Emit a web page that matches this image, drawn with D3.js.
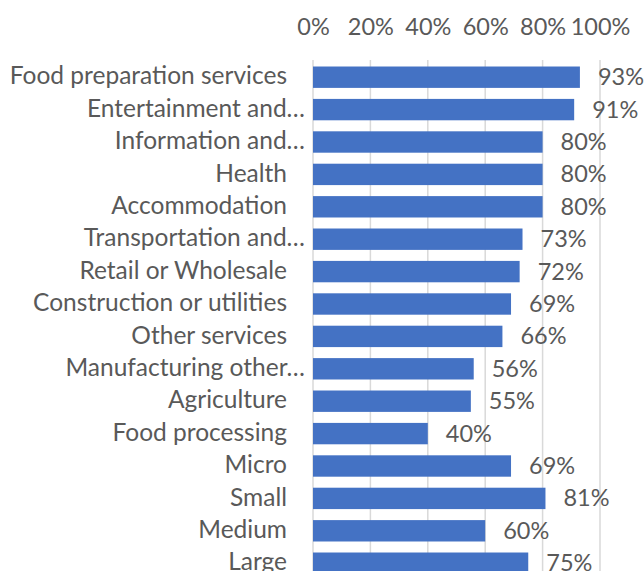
<!DOCTYPE html>
<html>
<head>
<meta charset="utf-8">
<script src="https://cdn.jsdelivr.net/npm/d3@7"></script>
<style>
  html, body { margin: 0; padding: 0; background: #fff; overflow: hidden; }
  svg { display: block; }
  text { font-family: Lato, "Open Sans", sans-serif; white-space: pre; }
</style>
</head>
<body>
<svg id="chart" width="644" height="571"></svg>
<script>
// Share of firms by sector and size
const categories = [
  "Food preparation services",
  "Entertainment and…",
  "Information and…",
  "Health",
  "Accommodation",
  "Transportation and…",
  "Retail or Wholesale",
  "Construction or utilities",
  "Other services",
  "Manufacturing other…",
  "Agriculture",
  "Food processing",
  "Micro",
  "Small",
  "Medium",
  "Large"
];
const values = [93, 91, 80, 80, 80, 73, 72, 69, 66, 56, 55, 40, 69, 81, 60, 75];
const tickValues = [0, 20, 40, 60, 80, 100];

const svg = d3.select("#chart");
const margin = { left: 313, top: 61 };
const plotW = 287;
const step = 32.4;

const x = d3.scaleLinear().domain([0, 100]).range([margin.left, margin.left + plotW]);
const y = d3.scaleBand()
  .domain(categories)
  .range([margin.top, margin.top + step * categories.length])
  .paddingInner(0.34)
  .paddingOuter(0.17);

const textColor = "#595959";
const numSize = 23.5;
const catSize = 24.5;

// vertical gridlines
svg.append("g")
  .selectAll("line")
  .data(tickValues)
  .join("line")
  .attr("x1", d => x(d)).attr("x2", d => x(d))
  .attr("y1", margin.top - 1).attr("y2", 571)
  .attr("stroke", "#d9d9d9")
  .attr("stroke-width", 1.5);

// top axis labels
const axis = d3.axisTop(x).tickValues(tickValues).tickFormat(d => d + "%").tickSize(0).tickPadding(0);
const axG = svg.append("g").attr("transform", "translate(0,35)").call(axis);
axG.select(".domain").remove();
axG.selectAll("text")
  .attr("fill", textColor)
  .attr("font-size", numSize)
  .attr("font-family", "Lato, 'Open Sans', sans-serif")
  .attr("dy", 0);

// bars
svg.append("g")
  .selectAll("rect")
  .data(categories)
  .join("rect")
  .attr("x", x(0))
  .attr("y", d => y(d))
  .attr("width", (d, i) => x(values[i]) - x(0))
  .attr("height", y.bandwidth())
  .attr("fill", "#4472C4");

// value labels
svg.append("g")
  .selectAll("text")
  .data(categories)
  .join("text")
  .attr("x", (d, i) => x(values[i]) + 18)
  .attr("y", d => y(d) + y.bandwidth() / 2 + 2)
  .attr("dominant-baseline", "middle")
  .attr("fill", textColor)
  .attr("font-size", numSize)
  .text((d, i) => values[i] + "%");

// category labels
svg.append("g")
  .selectAll("text")
  .data(categories)
  .join("text")
  .attr("x", d => d.endsWith("…") ? 305 : 287)
  .attr("y", d => y(d) + y.bandwidth() / 2 + 1)
  .attr("dominant-baseline", "middle")
  .attr("text-anchor", "end")
  .attr("fill", textColor)
  .attr("font-size", catSize)
  .text(d => d);
</script>
</body>
</html>
